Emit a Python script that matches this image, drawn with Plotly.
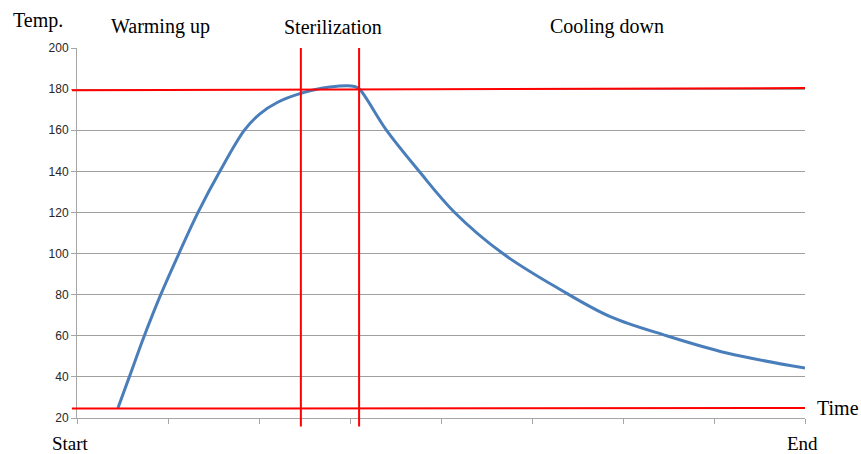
import plotly.graph_objects as go

# sterilization temperature profile
time_pts = [0.45, 0.575, 0.74, 0.92, 1.12, 1.33, 1.57, 1.84, 2.01, 2.2, 2.45,
            2.78, 3.05, 3.1, 3.40, 3.76, 4.15, 4.68, 5.31, 5.86, 6.48, 7.14, 8.0]
temp_pts = [24.9, 40, 60, 80, 100, 120, 140, 160, 168, 173.5, 177.8,
            181, 181.3, 180.2, 160, 140, 120, 100, 82.5, 69.3, 60, 51.6, 44.3]

y_ticks = [20, 40, 60, 80, 100, 120, 140, 160, 180, 200]
x_ticks = [0, 1, 2, 3, 4, 5, 6, 7, 8]

# red reference lines: (level at left end, level at right end)
temp_levels = [(24.6, 24.9), (179.4, 180.5)]
phase_bounds = [2.46, 3.1]

phase_names = ["Warming up", "Sterilization", "Cooling down"]
phase_label_x = [0.92, 2.81, 5.82]

SERIF = "Liberation Serif"
label_font = dict(family=SERIF, size=20, color="black")
centered = dict(showarrow=False, xanchor="center", yanchor="middle")

fig = go.Figure()

fig.add_trace(go.Scatter(
    x=time_pts, y=temp_pts,
    mode="lines",
    line=dict(color="#4A7EBB", width=3, shape="spline", smoothing=1.0),
    showlegend=False,
))

for lo, hi in temp_levels:
    fig.add_shape(type="line", xref="paper", yref="y",
                  x0=-0.007, x1=1, y0=lo, y1=hi,
                  line=dict(color="#FF0000", width=2))

for xb in phase_bounds:
    fig.add_shape(type="line", xref="x", yref="paper",
                  x0=xb, x1=xb, y0=-0.023, y1=1,
                  line=dict(color="#FF0000", width=2))

for name, xl in zip(phase_names, phase_label_x):
    fig.add_annotation(x=xl, y=1.0, xref="x", yref="paper", yshift=21.5,
                       text=name, font=label_font, **centered)

fig.add_annotation(x=-0.054, y=1.0, xref="paper", yref="paper", yshift=27.7,
                   text="Temp.", font=label_font, **centered)
fig.add_annotation(x=1.045, y=0.028, xref="paper", yref="paper",
                   text="Time", font=label_font, **centered)

# Start / End sit right at the bottom edge, a touch smaller to stay inside
edge_font = dict(family=SERIF, size=19, color="black")
fig.add_annotation(x=0, y=0, xref="x", yref="paper", yshift=-25, xshift=-7,
                   text="Start", font=edge_font, **centered)
fig.add_annotation(x=8, y=0, xref="x", yref="paper", yshift=-25, xshift=-3,
                   text="End", font=edge_font, **centered)

fig.update_xaxes(
    range=[0, 8], tickvals=x_ticks, showticklabels=False,
    showgrid=False, zeroline=False,
    showline=True, linecolor="#A6A6A6", linewidth=1,
    ticks="outside", ticklen=5, tickcolor="#A6A6A6",
)
fig.update_yaxes(
    range=[20, 200], tickvals=y_ticks,
    showgrid=True, gridcolor="#A0A0A0", gridwidth=1, zeroline=False,
    showline=True, linecolor="#A6A6A6", linewidth=1,
    ticks="outside", ticklen=5, tickcolor="#A6A6A6",
    tickfont=dict(family="Liberation Sans", size=12, color="#262626"),
)

fig.update_layout(
    width=861, height=454,
    margin=dict(l=77, r=56, t=47.7, b=35.7),
    paper_bgcolor="white", plot_bgcolor="white",
    showlegend=False,
)

# drop the default page margin so the chart sits at the window's corner
fig.write_html("out.html", config={"displayModeBar": False},
               post_script="document.body.style.margin='0';")
